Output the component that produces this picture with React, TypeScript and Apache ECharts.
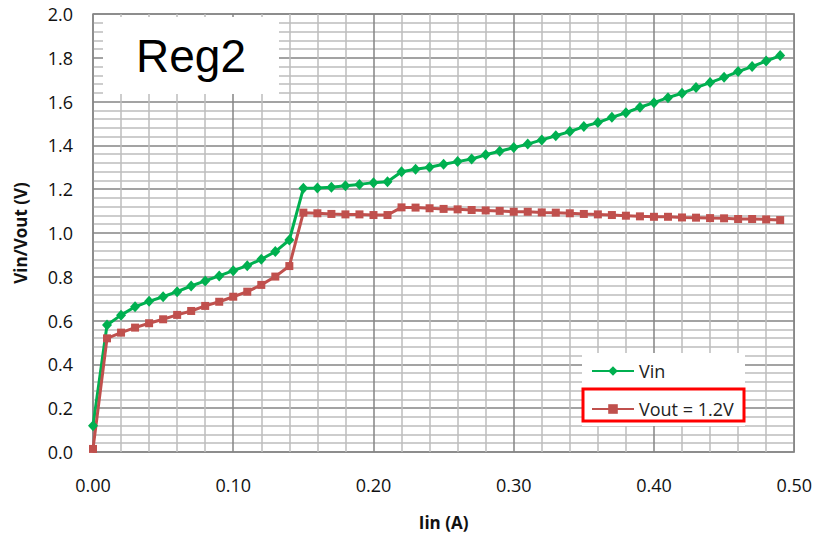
import React, { useEffect, useRef } from "react";
import * as echarts from "echarts";

const currents = [
  0.0, 0.01, 0.02, 0.03, 0.04, 0.05, 0.06, 0.07, 0.08, 0.09,
  0.1, 0.11, 0.12, 0.13, 0.14, 0.15, 0.16, 0.17, 0.18, 0.19,
  0.2, 0.21, 0.22, 0.23, 0.24, 0.25, 0.26, 0.27, 0.28, 0.29,
  0.3, 0.31, 0.32, 0.33, 0.34, 0.35, 0.36, 0.37, 0.38, 0.39,
  0.4, 0.41, 0.42, 0.43, 0.44, 0.45, 0.46, 0.47, 0.48, 0.49,
];

const vin = [
  0.12, 0.58, 0.625, 0.663, 0.688, 0.709, 0.732, 0.758, 0.781, 0.804,
  0.828, 0.851, 0.88, 0.915, 0.968, 1.204, 1.206, 1.209, 1.216, 1.222,
  1.23, 1.234, 1.28, 1.291, 1.3, 1.314, 1.326, 1.338, 1.357, 1.373,
  1.39, 1.406, 1.425, 1.444, 1.463, 1.486, 1.504, 1.528, 1.549, 1.574,
  1.595, 1.618, 1.638, 1.664, 1.687, 1.711, 1.737, 1.76, 1.785, 1.81,
];

const vout = [
  0.014, 0.519, 0.545, 0.568, 0.588, 0.606, 0.626, 0.644, 0.667, 0.686,
  0.709, 0.732, 0.763, 0.801, 0.849, 1.093, 1.09, 1.087, 1.085, 1.085,
  1.082, 1.082, 1.117, 1.116, 1.113, 1.11, 1.108, 1.105, 1.103, 1.101,
  1.097, 1.097, 1.094, 1.093, 1.09, 1.087, 1.085, 1.082, 1.079, 1.076,
  1.074, 1.074, 1.071, 1.07, 1.068, 1.067, 1.064, 1.064, 1.062, 1.059,
];

const seriesNames = ["Vin", "Vout = 1.2V"];
const xAxisTitle = "Iin (A)";
const yAxisTitle = "Vin/Vout (V)";
const chartLabel = "Reg2";

const FONT = "'Open Sans', 'Liberation Sans', sans-serif";

export default function App() {
  const ref = useRef<HTMLDivElement>(null);

  useEffect(() => {
    if (!ref.current) return;
    const chart = echarts.init(ref.current, null, { renderer: "svg" });

    const vinData = currents.map((c, i) => [c, vin[i]]);
    const voutData = currents.map((c, i) => [c, vout[i]]);

    chart.setOption({
      animation: false,
      backgroundColor: "#ffffff",
      grid: {
        left: 93,
        right: 20,
        top: 14,
        bottom: 87,
        show: true,
        borderColor: "#8a8a8a",
        borderWidth: 1.5,
        backgroundColor: "transparent",
      },
      xAxis: {
        type: "value",
        min: 0,
        max: 0.5,
        interval: 0.1,
        name: xAxisTitle,
        nameLocation: "middle",
        nameGap: 62,
        nameTextStyle: {
          fontFamily: FONT,
          fontWeight: "bold",
          fontSize: 17,
          color: "#111",
        },
        axisLine: { show: false },
        axisTick: { show: false },
        axisLabel: {
          margin: 24,
          fontFamily: FONT,
          fontSize: 18,
          color: "#111",
          formatter: (v: number) => v.toFixed(2),
        },
        splitLine: { show: true, lineStyle: { color: "#858585", width: 1.5 } },
        minorTick: { show: false, splitNumber: 5 },
        minorSplitLine: { show: true, lineStyle: { color: "#bdbdbd", width: 1.5 } },
      },
      yAxis: {
        type: "value",
        min: 0,
        max: 2,
        interval: 0.2,
        name: yAxisTitle,
        nameLocation: "middle",
        nameGap: 64,
        nameTextStyle: {
          fontFamily: FONT,
          fontWeight: "bold",
          fontSize: 17,
          color: "#111",
        },
        axisLine: { show: false },
        axisTick: { show: false },
        axisLabel: {
          margin: 20,
          fontFamily: FONT,
          fontSize: 18,
          color: "#111",
          formatter: (v: number) => v.toFixed(1),
        },
        splitLine: { show: true, lineStyle: { color: "#858585", width: 1.5 } },
        minorTick: { show: false, splitNumber: 5 },
        minorSplitLine: { show: true, lineStyle: { color: "#bdbdbd", width: 1.5 } },
      },
      legend: {
        orient: "vertical",
        left: 582,
        top: 353,
        padding: [9, 10, 9, 9],
        itemWidth: 42,
        itemHeight: 12,
        itemGap: 20,
        z: 6,
        textStyle: { fontFamily: FONT, fontSize: 18, color: "#222", padding: [0, 0, 0, 0] },
        data: seriesNames,
      },
      graphic: [
        {
          type: "rect",
          z: 3,
          shape: { x: 103, y: 17, width: 176, height: 77 },
          style: { fill: "#ffffff" },
        },
        {
          type: "text",
          z: 4,
          x: 191,
          y: 56,
          style: {
            text: chartLabel,
            fontFamily: "'Liberation Sans', Arial, sans-serif",
            fontSize: 46,
            fill: "#000",
            align: "center",
            verticalAlign: "middle",
          },
        },
        {
          type: "rect",
          z: 3,
          shape: { x: 582, y: 353, width: 163, height: 73 },
          style: { fill: "#ffffff" },
        },
        {
          type: "rect",
          z: 5,
          shape: { x: 583, y: 389, width: 161, height: 32 },
          style: { fill: "none", stroke: "#ff0000", lineWidth: 3 },
        },
      ],
      series: [
        {
          name: seriesNames[0],
          type: "line",
          data: vinData,
          symbol: "diamond",
          symbolSize: [10, 11],
          showSymbol: true,
          lineStyle: { color: "#00b050", width: 3 },
          itemStyle: { color: "#00b050" },
          z: 3,
        },
        {
          name: seriesNames[1],
          type: "line",
          data: voutData,
          symbol: "rect",
          symbolSize: 8,
          showSymbol: true,
          lineStyle: { color: "#c0504d", width: 3 },
          itemStyle: { color: "#c0504d" },
          z: 3,
        },
      ],
    });

    return () => chart.dispose();
  }, []);

  return (
    <div
      ref={ref}
      style={{ position: "fixed", left: 0, top: 0, width: 815, height: 539 }}
    />
  );
}
